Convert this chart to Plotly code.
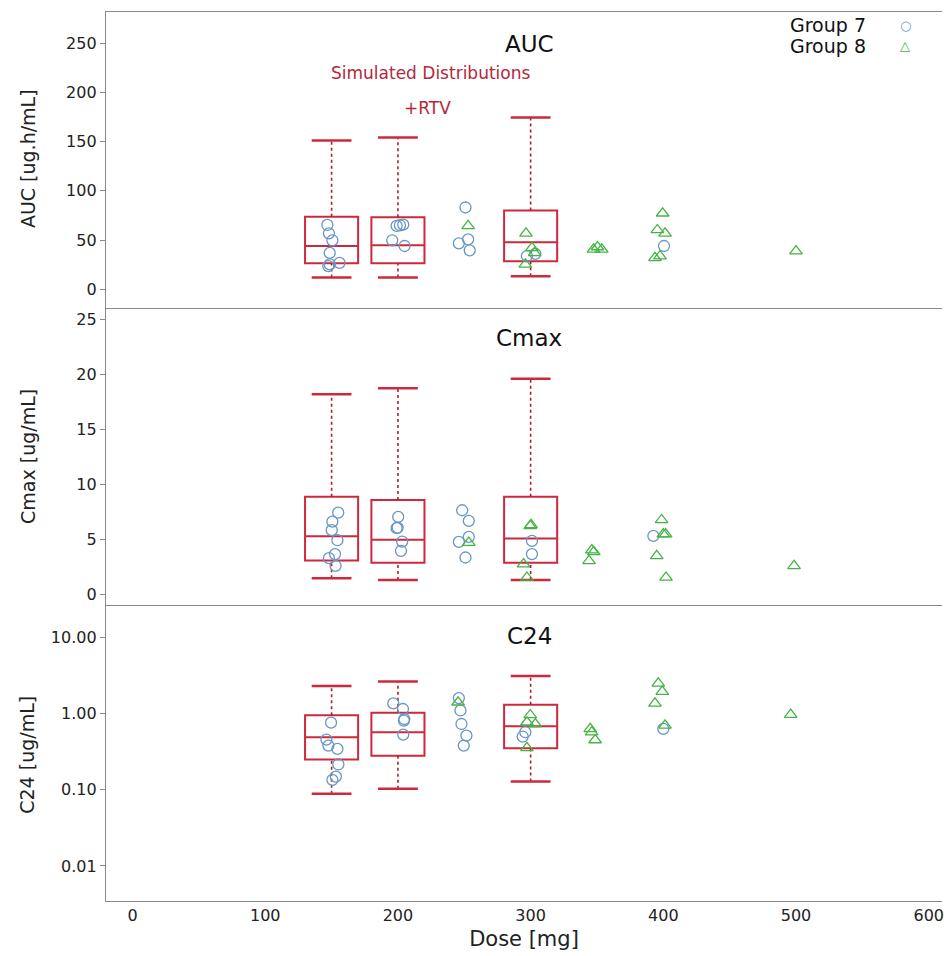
import plotly.graph_objects as go
from plotly.subplots import make_subplots

# ---------------- data ----------------
box_doses = [150, 200, 300]

auc_low = [12, 12, 13.3]
auc_q1 = [26.5, 26.5, 28.3]
auc_med = [44, 44.6, 47.6]
auc_q3 = [73.5, 73, 80]
auc_high = [151, 154, 174.5]

cmax_low = [1.5, 1.33, 1.33]
cmax_q1 = [3.1, 2.9, 2.9]
cmax_med = [5.3, 5.0, 5.1]
cmax_q3 = [8.9, 8.6, 8.9]
cmax_high = [18.2, 18.75, 19.6]

c24_low = [0.089, 0.103, 0.128]
c24_q1 = [0.25, 0.28, 0.35]
c24_med = [0.49, 0.57, 0.68]
c24_q3 = [0.95, 1.03, 1.31]
c24_high = [2.31, 2.63, 3.12]

g7_auc_dose = [146.8, 148, 150.6, 148.6, 148.6, 156, 147.5, 199, 201.5, 204, 195.7, 205,
               250.9, 245.9, 252.9, 254.1, 297.2, 303.5, 400.5]
g7_auc = [65.3, 56.8, 49.7, 37, 25.2, 26.8, 23.5, 64.3, 65, 65.6, 49.7, 43.9,
          83, 46.6, 50.7, 39.5, 33.7, 36, 43.9]
g8_auc_dose = [252.9, 296.5, 301, 303, 296, 347.4, 350.4, 353.6, 399.5, 395.5, 401.3, 393.7, 397.5, 500]
g8_auc = [64.3, 56.8, 42, 37, 25.2, 40.5, 42.9, 40.5, 77.2, 60.2, 56.8, 31.9, 33.7, 38.8]

g7_cmax_dose = [155, 150.6, 150.1, 154.4, 152.6, 148, 153, 200.2, 199, 199.8, 203.2, 202.3,
                248.4, 253.4, 253.4, 245.9, 250.9, 301, 301, 392.5]
g7_cmax = [7.45, 6.64, 5.86, 4.95, 3.69, 3.32, 2.63, 7.07, 6.04, 6.1, 4.83, 3.99,
           7.67, 6.7, 5.25, 4.8, 3.38, 4.89, 3.69, 5.34]
g8_cmax_dose = [253.4, 299.7, 300.3, 294.7, 297.2, 346.1, 347.6, 344, 398.7, 400, 401.7, 395, 402, 498.5]
g8_cmax = [4.74, 6.25, 6.35, 2.78, 1.57, 4.05, 3.9, 3.08, 6.79, 5.5, 5.5, 3.53, 1.57, 2.63]

g7_c24_dose = [149.6, 146.1, 147.6, 154.4, 155.1, 153.2, 150.6, 196.5, 203.8, 204.5, 204.8, 204,
               245.9, 247.1, 247.9, 251.6, 249.6, 296, 294, 400]
g7_c24 = [0.76, 0.456, 0.38, 0.344, 0.215, 0.149, 0.135, 1.36, 1.15, 0.81, 0.85, 0.53,
          1.6, 1.1, 0.73, 0.515, 0.38, 0.57, 0.5, 0.63]
g8_c24_dose = [245.3, 299.7, 303.5, 297.2, 297.2, 344.9, 346, 348.6, 396.2, 399.2, 393.7, 401.3, 496]
g8_c24 = [1.41, 0.96, 0.73, 0.77, 0.355, 0.63, 0.57, 0.45, 2.5, 1.94, 1.36, 0.7, 0.97]

x_tick_vals = [0, 100, 200, 300, 400, 500, 600]
x_tick_text = ["0", "100", "200", "300", "400", "500", "600"]
auc_tick_vals = [0, 50, 100, 150, 200, 250]
cmax_tick_vals = [0, 5, 10, 15, 20, 25]
c24_tick_vals = [0.01, 0.1, 1, 10]
c24_tick_text = ["0.01", "0.10", "1.00", "10.00"]

panel_titles = ["AUC", "Cmax", "C24"]
y_titles = ["AUC [ug.h/mL]", "Cmax [ug/mL]", "C24 [ug/mL]"]
legend_names = ["Group 7", "Group 8"]

# ---------------- style ----------------
BOX_RED = "#cc2a3c"
WHISK = "#a82030"
G7 = "#6897c6"
G8 = "#44b444"
AXIS = "#8a8a8a"
FONT = "DejaVu Sans"
BOX_W = 40
CAP_HALF = 15

fig = make_subplots(rows=3, cols=1, shared_xaxes=True, vertical_spacing=0)

panels = [
    (auc_low, auc_q1, auc_med, auc_q3, auc_high, g7_auc_dose, g7_auc, g8_auc_dose, g8_auc),
    (cmax_low, cmax_q1, cmax_med, cmax_q3, cmax_high, g7_cmax_dose, g7_cmax, g8_cmax_dose, g8_cmax),
    (c24_low, c24_q1, c24_med, c24_q3, c24_high, g7_c24_dose, g7_c24, g8_c24_dose, g8_c24),
]

for r, (lo, q1, med, q3, hi, d7, v7, d8, v8) in enumerate(panels, start=1):
    for i, d in enumerate(box_doses):
        fig.add_trace(go.Scatter(x=[d, d], y=[q3[i], hi[i]], mode="lines",
                                 line=dict(color=WHISK, width=1.6, dash="dot"),
                                 showlegend=False, hoverinfo="skip"), row=r, col=1)
        fig.add_trace(go.Scatter(x=[d, d], y=[lo[i], q1[i]], mode="lines",
                                 line=dict(color=WHISK, width=1.6, dash="dot"),
                                 showlegend=False, hoverinfo="skip"), row=r, col=1)
        for cap in (lo[i], hi[i]):
            fig.add_trace(go.Scatter(x=[d - CAP_HALF, d + CAP_HALF], y=[cap, cap], mode="lines",
                                     line=dict(color=BOX_RED, width=2.5),
                                     showlegend=False, hoverinfo="skip"), row=r, col=1)
    fig.add_trace(go.Box(x=box_doses, q1=q1, median=med, q3=q3,
                         lowerfence=q1, upperfence=q3, width=BOX_W,
                         line=dict(color=BOX_RED, width=2), fillcolor="rgba(255,255,255,0)",
                         whiskerwidth=0, boxpoints=False, showlegend=False, hoverinfo="skip"),
                  row=r, col=1)
    fig.add_trace(go.Scatter(x=d7, y=v7, mode="markers", name=legend_names[0],
                             marker=dict(symbol="circle-open", size=11, color=G7, line=dict(width=1.3)),
                             showlegend=False), row=r, col=1)
    fig.add_trace(go.Scatter(x=d8, y=v8, mode="markers", name=legend_names[1],
                             marker=dict(symbol="triangle-up-open", size=11, color=G8, line=dict(width=1.3)),
                             showlegend=False), row=r, col=1)

axis_common = dict(showline=True, linecolor=AXIS, linewidth=1.3, showgrid=False, zeroline=False)

for r in (1, 2, 3):
    fig.update_xaxes(range=[-20, 610], tickvals=x_tick_vals, ticktext=x_tick_text,
                     mirror=(True if r == 1 else False), ticks="", showticklabels=(r == 3),
                     ticklabeloverflow="allow",
                     tickfont=dict(family=FONT, size=16, color="#222"),
                     row=r, col=1, **axis_common)

fig.update_xaxes(title=dict(text="Dose [mg]", font=dict(family=FONT, size=21, color="#222"), standoff=6),
                 row=3, col=1)

ytick = dict(ticks="outside", ticklen=5, tickcolor=AXIS, tickwidth=1.2,
             tickfont=dict(family=FONT, size=16, color="#222"))
fig.update_yaxes(range=[-19.4, 281.6], tickvals=auc_tick_vals, row=1, col=1, **ytick, **axis_common)
fig.update_yaxes(range=[-0.9, 26.0], tickvals=cmax_tick_vals, row=2, col=1, **ytick, **axis_common)
fig.update_yaxes(type="log", range=[-2.46, 1.43], tickvals=c24_tick_vals, ticktext=c24_tick_text,
                 row=3, col=1, **ytick, **axis_common)

ann = []
for t, yp in zip(y_titles, [0.835, 0.5, 0.165]):
    ann.append(dict(text=t, xref="paper", yref="paper", x=-0.094, y=yp, textangle=-90,
                    showarrow=False, font=dict(family=FONT, size=19, color="#222"),
                    xanchor="center", yanchor="middle"))
for t, yp in zip(panel_titles, [0.964, 0.633, 0.298]):
    ann.append(dict(text=t, xref="paper", yref="paper", x=0.506, y=yp, showarrow=False,
                    font=dict(family=FONT, size=23, color="#111"), xanchor="center", yanchor="middle"))
ann.append(dict(text="Simulated Distributions", xref="paper", yref="paper", x=0.388, y=0.931,
                showarrow=False, font=dict(family=FONT, size=17, color="#b3283c"),
                xanchor="center", yanchor="middle"))
ann.append(dict(text="+RTV", xref="paper", yref="paper", x=0.385, y=0.892,
                showarrow=False, font=dict(family=FONT, size=17, color="#b3283c"),
                xanchor="center", yanchor="middle"))
for t, sym, col, yp in [(legend_names[0], "○", G7, 0.985), (legend_names[1], "△", G8, 0.962)]:
    ann.append(dict(text=t, xref="paper", yref="paper", x=0.912, y=yp, showarrow=False,
                    font=dict(family=FONT, size=19, color="#111"), xanchor="right", yanchor="middle"))
    ann.append(dict(text=sym, xref="paper", yref="paper", x=0.956, y=yp, showarrow=False,
                    font=dict(family=FONT, size=13, color=col), xanchor="center", yanchor="middle"))

fig.update_layout(width=944, height=956, margin=dict(l=106, r=0, t=12, b=55),
                  plot_bgcolor="white", paper_bgcolor="white", annotations=ann,
                  showlegend=False, font=dict(family=FONT))

fig.write_html("out.html")
